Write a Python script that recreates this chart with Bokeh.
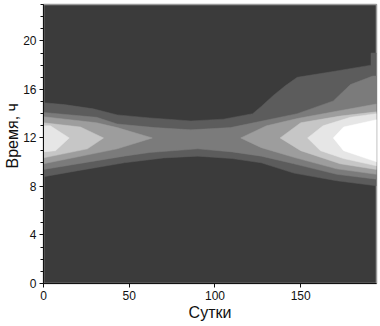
from bokeh.plotting import figure
from bokeh.embed import file_html
from bokeh.resources import INLINE
from bokeh.models import FixedTicker, Range1d, Title

# Contour bands: (days, hours) outlines, from the outer level inwards
level1_days_upper = [0, 12, 29, 43, 62, 86, 105, 122, 127, 134, 141, 148, 170, 191, 191, 194.2]
level1_hours_upper = [14.9, 14.75, 14.4, 13.9, 13.65, 13.4, 13.55, 14.0, 14.6, 15.5, 16.3, 17.0, 17.5, 18.0, 19.0, 19.0]
level1_days_lower = [0, 20, 47, 70, 90, 110, 127, 146, 171, 194.2]
level1_hours_lower = [8.8, 9.3, 9.95, 10.35, 10.5, 10.3, 9.95, 9.1, 8.47, 8.05]

level2_days_upper = [0, 31, 43, 65, 86, 109, 148, 169, 179, 192, 194.2]
level2_hours_upper = [14.1, 13.7, 13.15, 12.85, 12.67, 12.85, 14.0, 15.05, 16.4, 17.1, 17.1]
level2_days_lower = [0, 47, 62, 90, 110, 127, 146, 171, 194.2]
level2_hours_lower = [9.4, 10.5, 10.8, 11.1, 10.85, 10.5, 9.87, 9.0, 8.6]

level3_left_days = [0, 31, 43, 63.5, 43, 0]
level3_left_hours = [13.75, 13.25, 12.85, 12.0, 11.1, 9.87]
level3_right_days = [194.2, 171, 148, 130, 115, 127, 146, 171, 194.2]
level3_right_hours = [14.8, 14.2, 13.6, 13.0, 12.0, 11.2, 10.4, 9.45, 9.0]

level4_left_days = [0, 21.6, 35, 25.6, 0]
level4_left_hours = [13.25, 12.9, 12.0, 11.1, 10.36]
level4_right_days = [194.2, 173, 150, 138, 150, 173, 194.2]
level4_right_hours = [14.15, 13.8, 13.25, 12.0, 10.95, 9.87, 9.4]

level5_left_days = [0, 4, 15, 7, 0]
level5_left_hours = [13.0, 13.0, 12.0, 10.95, 10.85]
level5_right_days = [194.2, 179, 163, 154, 161.5, 175, 194.2]
level5_right_hours = [14.0, 13.7, 13.0, 12.0, 10.95, 10.3, 9.7]

level6_days = [194.2, 175, 169, 175, 194.2]
level6_hours = [13.5, 12.9, 12.0, 10.95, 10.03]

x_ticks = [0, 50, 100, 150]
y_major = [0, 4, 8, 12, 16, 20]
y_minor = [h for h in range(0, 24)]
x_title = "Сутки"
y_title = "Время, ч"

BG = "#3b3b3b"
C1, C2, C3, C4, C5, C6 = "#5c5c5c", "#7b7b7b", "#9d9d9d", "#c6c6c6", "#e6e6e6", "#ffffff"

p = figure(width=378, height=323, output_backend="svg", toolbar_location=None,
           x_range=Range1d(0, 194.2), y_range=Range1d(0, 23),
           min_border_left=43, min_border_right=2, min_border_top=4, min_border_bottom=40)
p.styles = {"position": "absolute", "left": "0px", "top": "0px"}
p.background_fill_color = BG
p.border_fill_color = "#ffffff"
p.outline_line_color = "#9a9a9a"
p.outline_line_width = 1.5
p.grid.visible = False


def band(xs, ys, color):
    p.patch(xs, ys, fill_color=color, line_color=color, line_width=0.5)


band(level1_days_upper + level1_days_lower[::-1], level1_hours_upper + level1_hours_lower[::-1], C1)
band(level2_days_upper + level2_days_lower[::-1], level2_hours_upper + level2_hours_lower[::-1], C2)
band(level3_left_days, level3_left_hours, C3)
band(level3_right_days, level3_right_hours, C3)
band(level4_left_days, level4_left_hours, C4)
band(level4_right_days, level4_right_hours, C4)
band(level5_left_days, level5_left_hours, C5)
band(level5_right_days, level5_right_hours, C5)
band(level6_days, level6_hours, C6)

for ax in (p.xaxis[0], p.yaxis[0]):
    ax.major_label_text_font = "Liberation Sans"
    ax.major_label_text_font_size = "12px"
    ax.major_label_text_color = "#111111"
    ax.axis_line_color = "#111111"
    ax.major_tick_line_color = "#111111"
    ax.minor_tick_line_color = "#111111"
    ax.major_tick_in = 0
    ax.minor_tick_in = 0

xa = p.xaxis[0]
xa.axis_label = x_title
xa.axis_label_text_font = "Liberation Sans"
xa.axis_label_text_font_size = "16px"
xa.axis_label_text_font_style = "normal"
xa.axis_label_text_color = "#111111"
xa.ticker = FixedTicker(ticks=x_ticks)
xa.major_tick_out = 4
xa.minor_tick_out = 0
xa.major_label_standoff = 3
xa.axis_label_standoff = 1

ya = p.yaxis[0]
ya.ticker = FixedTicker(ticks=y_major, minor_ticks=y_minor)
ya.major_tick_out = 4
ya.minor_tick_out = 3
ya.major_label_standoff = 3

p.add_layout(Title(text=y_title, align="left", offset=115, standoff=0,
                   text_font="Liberation Sans", text_font_size="16px",
                   text_font_style="normal", text_color="#111111"), "left")

open("out.html", "w").write(file_html(p, INLINE))
